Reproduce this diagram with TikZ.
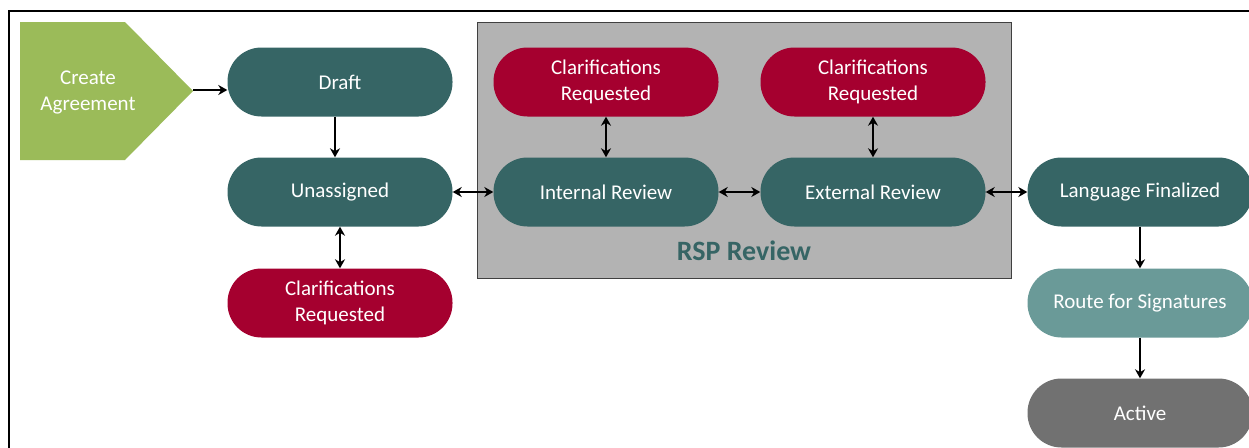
\documentclass[tikz,border=0pt]{standalone}
\usepackage{fontspec}
\setmainfont{Carlito}
\usetikzlibrary{arrows.meta}
\definecolor{stageteal}{HTML}{366565}
\definecolor{routeteal}{HTML}{6A9A98}
\definecolor{clarred}{HTML}{A5002F}
\definecolor{activegray}{HTML}{717171}
\definecolor{creategreen}{HTML}{9BBB59}
\definecolor{rspgray}{HTML}{B3B3B3}
\definecolor{rspedge}{HTML}{404040}
\tikzset{
  stagebox/.style={fill=stageteal, text=white, rounded corners=34pt,
    minimum width=225pt, minimum height=69pt, inner sep=2pt, align=center,
    font=\fontsize{21}{26}\selectfont},
  clarbox/.style={stagebox, fill=clarred},
  flow/.style={-{Stealth[length=9pt,width=10pt]}, line width=2.2pt},
  biflow/.style={{Stealth[length=9pt,width=10pt]}-{Stealth[length=9pt,width=10pt]}, line width=2.2pt},
}
\begin{document}
\begin{tikzpicture}[x=1pt,y=-1pt]
\useasboundingbox (0,0) rectangle (1249,447);
% outer frame
\draw[line width=2pt] (9,470) -- (9,11) -- (1270,11);
% RSP review area
\draw[fill=rspgray, draw=rspedge, line width=1pt] (477,22) rectangle (1011,278);
\node[font=\fontsize{28}{32}\selectfont\bfseries, text=stageteal] (rsptitle) at (744,251) {RSP Review};
% Create agreement
\fill[creategreen] (20,22) -- (125,22) -- (193,91) -- (125,160) -- (20,160) -- cycle;
\coordinate (createtip) at (193,90);
\node[text=white, align=center, font=\fontsize{21}{26}\selectfont] (create) at (88,92) {Create\\Agreement};
% States
\node[stagebox] (draft) at (340,82) {Draft};
\node[stagebox] (unassigned) at (340,192) {Unassigned};
\node[clarbox] (clarunassigned) at (340,303) {Clarifications\\Requested};
\node[stagebox] (internal) at (606,192) {Internal Review};
\node[clarbox] (clarinternal) at (606,82) {Clarifications\\Requested};
\node[stagebox] (external) at (873,192) {External Review};
\node[clarbox] (clarexternal) at (873,82) {Clarifications\\Requested};
\node[stagebox] (finalized) at (1140,192) {Language Finalized};
\node[stagebox, fill=routeteal] (route) at (1140,303) {Route for Signatures};
\node[stagebox, fill=activegray] (active) at (1140,413) {Active};
% Flow arrows
\draw[flow] (createtip) -- (draft.west |- createtip);
\draw[flow] ([xshift=-5pt]draft.south) -- ([xshift=-5pt]unassigned.north);
\draw[biflow] (unassigned) -- (clarunassigned);
\draw[biflow] (unassigned) -- (internal);
\draw[biflow] (internal) -- (clarinternal);
\draw[biflow] (internal) -- (external);
\draw[biflow] (external) -- (clarexternal);
\draw[biflow] (external) -- (finalized);
\draw[flow] (finalized) -- (route);
\draw[flow] (route) -- (active);
\end{tikzpicture}
\end{document}
